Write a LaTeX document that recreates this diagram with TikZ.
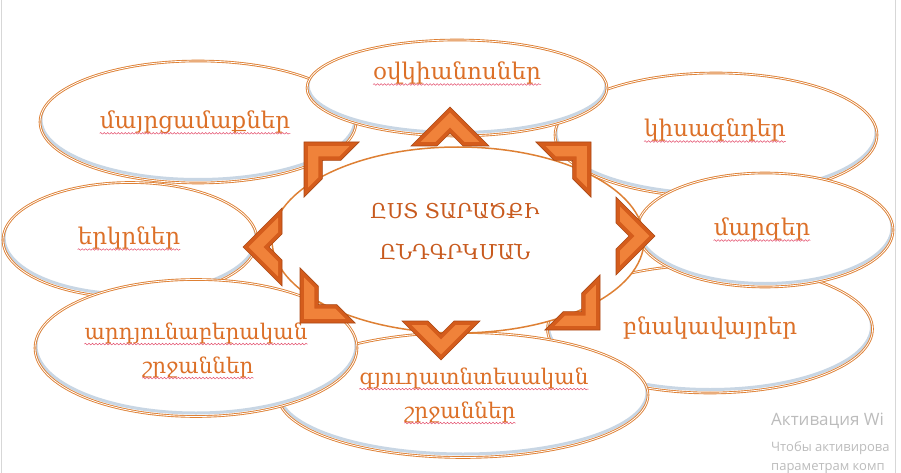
\documentclass[tikz,border=0pt]{standalone}
\usepackage{fontspec}
\setmainfont{DejaVu Serif}
\newfontfamily\winfont{Open Sans}
\usepackage{tikz}
\usetikzlibrary{shapes.geometric, decorations.pathmorphing}

\definecolor{RingOrange}{RGB}{222,128,52}
\definecolor{RingShade}{RGB}{200,214,228}
\definecolor{LabelOrange}{RGB}{220,112,40}
\definecolor{HubOrange}{RGB}{200,90,30}
\definecolor{ChevDark}{RGB}{212,92,28}
\definecolor{ChevLight}{RGB}{240,130,58}
\definecolor{ChevEdge}{RGB}{170,72,20}
\definecolor{SpellRed}{RGB}{228,80,110}
\definecolor{WinGray}{RGB}{188,188,188}

\begin{document}
\begin{tikzpicture}[x=1pt, y=-1pt,
  bubble/.style={ellipse, draw=RingOrange, line width=0.9pt, double=white, double distance=0.8pt, fill=white, inner sep=0pt,
    path picture={\draw[RingShade, line width=3pt] ([yshift=2.5pt]path picture bounding box.center)
      ellipse [x radius=\pgfkeysvalueof{/pgf/minimum width}/2-1pt, y radius=\pgfkeysvalueof{/pgf/minimum height}/2-1pt];}},
  hub/.style={ellipse, draw=RingOrange, line width=1.5pt, fill=white, inner sep=0pt},
  lbl/.style={text=LabelOrange, inner sep=0pt, font=\fontsize{23}{34}\selectfont},
  lbltwo/.style={lbl, font=\fontsize{21.5}{34}\selectfont},
  hubtxt/.style={text=HubOrange, align=center, font=\fontsize{20.5}{41}\selectfont},
  spell/.style={SpellRed, line width=0.5pt, decorate, decoration={snake, amplitude=0.8pt, segment length=3.5pt}},
  wm/.style={text=WinGray, anchor=base west, inner sep=0pt}
]
\useasboundingbox (0,0) rectangle (901,473);
\fill[white] (0,0) rectangle (901,473);
\draw[WinGray!60, line width=1pt] (1,0) -- (1,473);
\draw[WinGray!60, line width=1pt] (895,0) -- (895,473);

% Outer bubbles
\node[bubble, minimum width=316pt, minimum height=122pt] (mayr) at (198,122) {};
\node[bubble, minimum width=254pt, minimum height=115pt] (erk) at (130,240) {};
\node[bubble, minimum width=322pt, minimum height=124pt] (kisa) at (716,135) {};
\node[bubble, minimum width=325pt, minimum height=128pt] (bnak) at (710,329) {};
\node[bubble, minimum width=256pt, minimum height=114pt] (marz) at (765,230) {};
\node[bubble, minimum width=300pt, minimum height=96pt] (okv) at (457,88) {};
\node[bubble, minimum width=370pt, minimum height=125pt] (gyugh) at (463,395) {};
\node[bubble, minimum width=322pt, minimum height=137pt] (ardy) at (196,348) {};

% Central bubble
\node[hub, minimum width=372pt, minimum height=186pt] (center) at (458,240) {};
\node[hubtxt] (centertxt) at (455,232) {ԸՍՏ ՏԱՐԱԾՔԻ\\ԸՆԴԳՐԿՄԱՆ};

% Labels
\node[lbl] (okvtxt) at (457,73) {օվկիանոսներ};
\node[lbl] (mayrtxt) at (195,122) {մայրցամաքներ};
\node[lbl] (kisatxt) at (715,130) {կիսագնդեր};
\node[lbl] (marztxt) at (762,229) {մարզեր};
\node[lbl] (bnaktxt) at (710,328) {բնակավայրեր};
\node[lbl] (erktxt) at (129,238) {երկրներ};
\node[lbltwo] (ardytxt) at (196,333) {արդյունաբերական};
\node[lbltwo] (ardytxtb) at (198,367) {շրջաններ};
\node[lbltwo] (gyughtxt) at (474,378) {գյուղատնտեսական};
\node[lbltwo] (gyughtxtb) at (460,412) {շրջաններ};

% Spell-check waves
\foreach \n in {okvtxt, mayrtxt, kisatxt, marztxt, erktxt, ardytxt, ardytxtb, gyughtxt, gyughtxtb}
  \draw[spell] ([yshift=-5pt]\n.base west) -- ([yshift=-5pt]\n.base east);

% Chevrons round the hub
\foreach \tx/\ty/\ang in {450/107/90, 591/142/45, 655/236/0, 600/330/-45,
                          441/360/-90, 300/323/-135, 243/247/180, 304/142/135} {
  \begin{scope}[shift={(\tx,\ty)}, rotate=\ang]
    \filldraw[fill=ChevDark, draw=ChevEdge, line width=0.6pt]
      (0,0) -- (-39,39) -- (-39,13) -- (-26,0) -- (-39,-13) -- (-39,-39) -- cycle;
    \fill[ChevLight]
      (-5.7,0) -- (-35,29.3) -- (-35,14.7) -- (-20.3,0) -- (-35,-14.7) -- (-35,-29.3) -- cycle;
  \end{scope}
}

% Watermark
\begin{scope}
  \clip (0,0) rectangle (894,473);
  \node[wm, font=\winfont\fontsize{17}{17}\selectfont] (wm1) at (771,425) {Активация Wi};
  \node[wm, font=\winfont\fontsize{13}{13}\selectfont] (wm2) at (771,451) {Чтобы активирова};
  \node[wm, font=\winfont\fontsize{13}{13}\selectfont] (wm3) at (771,470) {параметрам комп};
\end{scope}
\end{tikzpicture}
\end{document}
